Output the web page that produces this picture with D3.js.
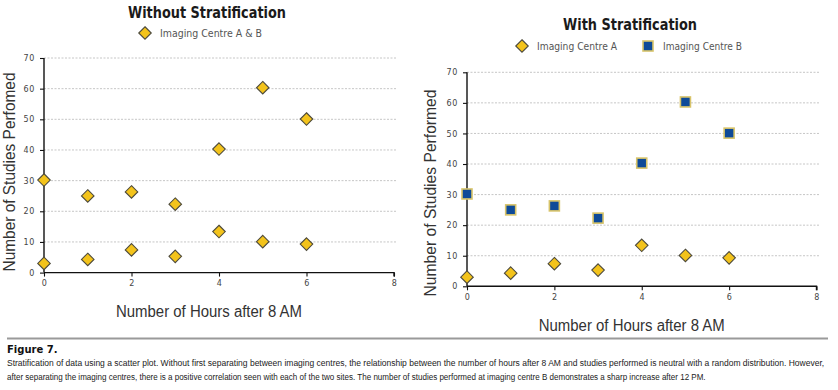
<!DOCTYPE html>
<html>
<head>
<meta charset="utf-8">
<script src="https://cdn.jsdelivr.net/npm/d3@7"></script>
<style>
  body { margin: 0; background: #fff; }
  svg { display: block; font-family: "Liberation Sans", Arial, sans-serif; }
</style>
</head>
<body>
<div id="chart"></div>
<script>
// hours after 8 AM
const hours = [0, 1, 2, 3, 4, 5, 6];
// studies performed per centre
const centreA = [3, 4.3, 7.4, 5.3, 13.4, 10.1, 9.3];
const centreB = [30.2, 25, 26.3, 22.3, 40.3, 60.3, 50.1];
const yTicks = [0, 10, 20, 30, 40, 50, 60, 70];
const xTicks = [0, 2, 4, 6, 8];

const captionLines = [
  'Stratification of data using a scatter plot. Without first separating between imaging centres, the relationship between the number of hours after 8 AM and studies performed is neutral with a random distribution. However,',
  'after separating the imaging centres, there is a positive correlation seen with each of the two sites. The number of studies performed at imaging centre B demonstrates a sharp increase after 12 PM.'
];

const GOLD = '#f3c31b';
const BLUE = '#0e4a98';

const svg = d3.select('#chart').append('svg')
  .attr('width', 838).attr('height', 390);

const diamond = d3.symbol().type(d3.symbolDiamond2).size(100);

function drawDiamond(g, cx, cy) {
  g.append('path')
    .attr('d', diamond())
    .attr('transform', `translate(${cx},${cy})`)
    .attr('fill', GOLD).attr('stroke', '#4d4a3c').attr('stroke-width', 1.1);
}

function drawSquare(g, cx, cy) {
  g.append('rect')
    .attr('x', cx - 5).attr('y', cy - 5).attr('width', 10).attr('height', 10)
    .attr('fill', BLUE).attr('stroke', '#d8c46a').attr('stroke-width', 1.6);
}

function panel(opt) {
  const g = svg.append('g');
  const x = d3.scaleLinear().domain([0, 8]).range(opt.xr);
  const y = d3.scaleLinear().domain([0, 70]).range(opt.yr);

  // grid
  g.append('g').selectAll('line')
    .data(yTicks.filter(t => t > 0))
    .join('line')
    .attr('x1', x(0)).attr('x2', x(8) + 3)
    .attr('y1', d => y(d)).attr('y2', d => y(d))
    .attr('stroke', '#b8b8b8').attr('stroke-width', 0.8)
    .attr('stroke-dasharray', '2,1.5');

  const yAxis = g.append('g')
    .attr('transform', `translate(${x(0)},0)`)
    .call(d3.axisLeft(y).tickValues(yTicks).tickSize(4).tickPadding(5));
  const xAxis = g.append('g')
    .attr('transform', `translate(0,${y(0)})`)
    .call(d3.axisBottom(x).tickValues(xTicks).tickSize(4).tickPadding(4));
  [yAxis, xAxis].forEach(a => {
    a.select('.domain').attr('stroke', '#111').attr('stroke-width', 1.4);
    a.selectAll('.tick line').attr('stroke', '#111').attr('stroke-width', 1.1);
    a.selectAll('.tick text').attr('fill', '#444')
      .style('font-size', '8px').style('letter-spacing', '0.6px')
      .style('font-family', '"DejaVu Sans", sans-serif');
  });
  yAxis.select('.domain').attr('d', `M0,${y(0)}V${y(70)}`);
  xAxis.select('.domain').attr('d', `M${x(0)},0H${x(8)}V4`);

  // titles
  g.append('text')
    .attr('x', opt.title[1]).attr('y', opt.title[2])
    .attr('text-anchor', 'middle')
    .attr('textLength', opt.title[3]).attr('lengthAdjust', 'spacingAndGlyphs')
    .style('font-weight', 'bold').style('font-size', '15px').attr('fill', '#1a1a1a')
    .style('font-family', '"DejaVu Sans", sans-serif')
    .text(opt.title[0]);

  g.append('text')
    .attr('x', (opt.xr[0] + opt.xr[1]) / 2 - 10).attr('y', opt.xTitleY)
    .attr('text-anchor', 'middle')
    .attr('textLength', 186).attr('lengthAdjust', 'spacingAndGlyphs')
    .style('font-size', '16px').attr('fill', '#333')
    .text('Number of Hours after 8 AM');

  g.append('text')
    .attr('transform', `translate(${opt.yTitle[1]},${opt.yTitle[2]}) rotate(-90)`)
    .attr('text-anchor', 'middle')
    .attr('textLength', opt.yTitle[3]).attr('lengthAdjust', 'spacingAndGlyphs')
    .style('font-size', '16px').attr('fill', '#333')
    .text(opt.yTitle[0]);

  // legend
  opt.legend.forEach(l => {
    if (l.shape === 'diamond') drawDiamond(g, l.x, l.y);
    else drawSquare(g, l.x, l.y);
    g.append('text')
      .attr('x', l.x + 15).attr('y', l.y + 4)
      .attr('textLength', l.w).attr('lengthAdjust', 'spacingAndGlyphs')
      .style('font-size', '10.5px').attr('fill', '#555')
      .style('font-family', '"DejaVu Sans", sans-serif')
      .text(l.label);
  });

  // points
  hours.forEach((h, i) => {
    if (opt.stratified) drawSquare(g, x(h), y(centreB[i]));
    else drawDiamond(g, x(h), y(centreB[i]));
    drawDiamond(g, x(h), y(centreA[i]));
  });
}

panel({
  xr: [44, 394], yr: [272.6, 58],
  title: ['Without Stratification', 207, 18, 158],
  xTitleY: 317,
  yTitle: ['Number of Studies Perfomed', 15, 172, 199],
  legend: [{ shape: 'diamond', x: 145, y: 33, label: 'Imaging Centre A & B', w: 102 }],
  stratified: false
});

panel({
  xr: [467, 816.5], yr: [286.3, 72.3],
  title: ['With Stratification', 630, 30, 134],
  xTitleY: 331,
  yTitle: ['Number of Studies Performed', 436, 193, 207],
  legend: [
    { shape: 'diamond', x: 522, y: 46, label: 'Imaging Centre A', w: 80 },
    { shape: 'square', x: 648, y: 46, label: 'Imaging Centre B', w: 79 }
  ],
  stratified: true
});

// caption
svg.append('line')
  .attr('x1', 7).attr('x2', 828).attr('y1', 338.5).attr('y2', 338.5)
  .attr('stroke', '#9a9a9a').attr('stroke-width', 2);

svg.append('text')
  .attr('x', 7).attr('y', 353)
  .style('font-weight', 'bold').style('font-size', '10px').attr('fill', '#111')
  .style('font-family', '"DejaVu Sans", sans-serif')
  .text('Figure 7.');

// squeeze each caption line horizontally to the width it has in the figure
const capWidths = [818, 700];
svg.selectAll('text.cap')
  .data(captionLines)
  .join('text')
  .attr('class', 'cap')
  .style('font-size', '9px').attr('fill', '#222')
  .style('font-family', '"Liberation Sans Narrow", "Liberation Sans", sans-serif')
  .text(d => d)
  .attr('transform', function(d, i) {
    const sx = capWidths[i] / this.getComputedTextLength();
    return `translate(7,${366 + i * 14}) scale(${sx},1)`;
  });
</script>
</body>
</html>
